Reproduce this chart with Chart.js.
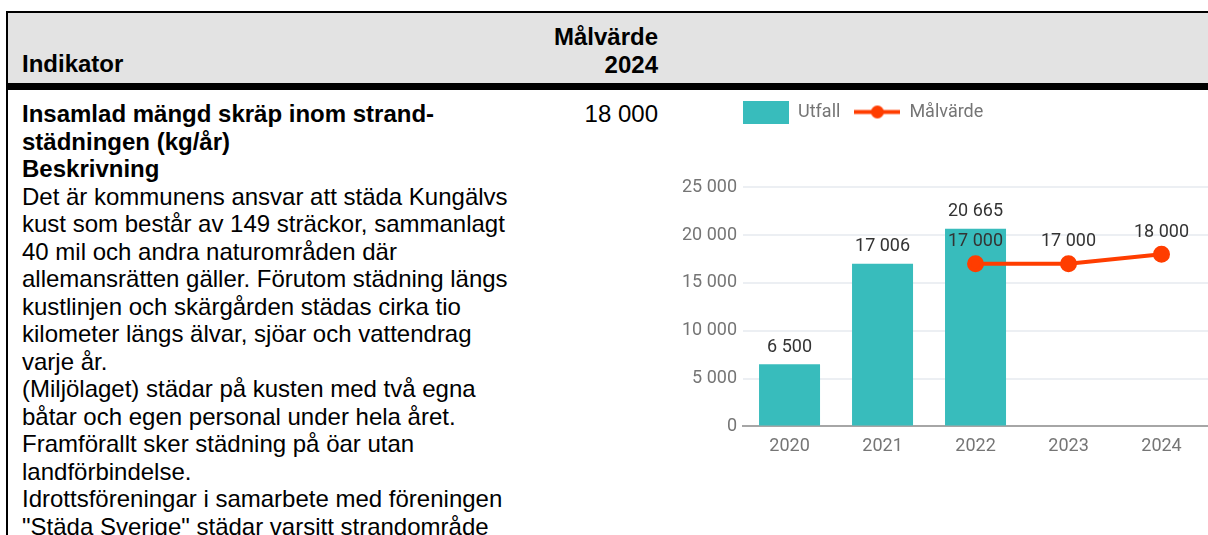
<!DOCTYPE html>
<html>
<head>
<meta charset="utf-8">
<script src="https://cdn.jsdelivr.net/npm/chart.js@4.4.0/dist/chart.umd.min.js"></script>
<style>
  body { margin: 0; background: #fff; width: 1208px; height: 535px; overflow: hidden; position: relative;
         font-family: "Liberation Sans", Arial, sans-serif; color: #000; }
  .abs { position: absolute; }
  #topline { left: 6px; top: 11px; width: 1202px; height: 2px; background: #000; }
  #leftline { left: 6px; top: 11px; width: 2px; height: 524px; background: #000; }
  #head { left: 8px; top: 13px; width: 1200px; height: 70px; background: #e3e3e3; }
  #rule { left: 6px; top: 83px; width: 1202px; height: 7px; background: #000; }
  .txt { font-size: 24px; line-height: 27.5px; white-space: nowrap; }
  #chartbox { left: 676px; top: 89px; width: 532px; height: 377px; }
</style>
</head>
<body>
<div class="abs" id="head"></div>
<div class="abs" id="topline"></div>
<div class="abs" id="leftline"></div>
<div class="abs" id="rule"></div>

<div class="abs txt" style="left:22px; top:50px; font-weight:bold;">Indikator</div>
<div class="abs txt" style="left:458px; width:200px; top:23px; font-weight:bold; text-align:right;">Målvärde<br>2024</div>

<div class="abs txt" style="left:22px; top:100px;"><b>Insamlad mängd skräp inom strand-<br>städningen (kg/år)<br>Beskrivning</b><br>Det är kommunens ansvar att städa Kungälvs<br>kust som består av 149 sträckor, sammanlagt<br>40 mil och andra naturområden där<br>allemansrätten gäller. Förutom städning längs<br>kustlinjen och skärgården städas cirka tio<br>kilometer längs älvar, sjöar och vattendrag<br>varje år.<br>(Miljölaget) städar på kusten med två egna<br>båtar och egen personal under hela året.<br>Framförallt sker städning på öar utan<br>landförbindelse.<br>Idrottsföreningar i samarbete med föreningen<br>"Städa Sverige" städar varsitt strandområde</div>

<div class="abs txt" style="left:458px; width:200px; top:100px; text-align:right;">18 000</div>

<div class="abs" id="chartbox"><canvas id="myChart"></canvas></div>

<script>
var years = ['2020', '2021', '2022', '2023', '2024'];
var utfall = [6500, 17006, 20665, null, null];
var malvarde = [null, null, 17000, 17000, 18000];
var yTicks = [0, 5000, 10000, 15000, 20000, 25000];

var barColor = '#38bcbc';
var lineColor = '#ff3d00';

function fmt(n) {
  return String(n).replace(/\B(?=(\d{3})+(?!\d))/g, ' ');
}

// legend icons
var barIcon = document.createElement('canvas');
barIcon.width = 46; barIcon.height = 23;
var bc = barIcon.getContext('2d');
bc.fillStyle = barColor;
bc.fillRect(0, 0, 46, 23);

var lineIcon = document.createElement('canvas');
lineIcon.width = 46; lineIcon.height = 23;
var lc = lineIcon.getContext('2d');
lc.strokeStyle = lineColor;
lc.lineWidth = 4;
lc.beginPath(); lc.moveTo(0, 11.5); lc.lineTo(46, 11.5); lc.stroke();
lc.fillStyle = lineColor;
lc.beginPath(); lc.arc(23, 11.5, 6.5, 0, Math.PI * 2); lc.fill();
var icons = [barIcon, lineIcon];

var valueLabels = {
  id: 'valueLabels',
  afterDatasetsDraw: function(chart) {
    var ctx = chart.ctx;
    ctx.save();
    ctx.font = '18px Roboto';
    ctx.fillStyle = '#333333';
    ctx.textAlign = 'center';
    ctx.textBaseline = 'middle';
    chart.data.datasets.forEach(function(ds, i) {
      chart.getDatasetMeta(i).data.forEach(function(el, j) {
        var v = ds.data[j];
        if (v == null) return;
        var off = ds.type === 'line' ? 22 : 17;
        ctx.fillText(fmt(v), el.x, el.y - off);
      });
    });
    ctx.restore();
  }
};

// legend starts flush with the plot area
var legendShift = {
  id: 'legendShift',
  afterLayout: function(chart) {
    var l = chart.legend;
    var d = l.left - (chart.chartArea.left - l.options.labels.padding);
    l.left -= d;
    l.right -= d;
  }
};

Chart.defaults.font.family = 'Roboto';
Chart.defaults.font.size = 18;
Chart.defaults.color = '#757575';

var ctx = document.getElementById('myChart').getContext('2d');
var myChart = new Chart(ctx, {
  type: 'bar',
  data: {
    labels: years,
    datasets: [{
      type: 'bar',
      label: 'Utfall',
      data: utfall,
      backgroundColor: barColor,
      categoryPercentage: 0.82,
      barPercentage: 0.8,
      order: 1
    }, {
      type: 'line',
      label: 'Målvärde',
      data: malvarde,
      borderColor: lineColor,
      backgroundColor: lineColor,
      borderWidth: 4,
      pointRadius: 6.5,
      pointHoverRadius: 6.5,
      spanGaps: false,
      order: 0
    }]
  },
  options: {
    responsive: true,
    maintainAspectRatio: false,
    animation: false,
    layout: { padding: 0, autoPadding: false },
    plugins: {
      legend: {
        position: 'top',
        align: 'start',
        fullSize: false,
        labels: {
          usePointStyle: true,
          pointStyleWidth: 46,
          padding: 14,
          color: '#757575',
          font: { size: 18 },
          generateLabels: function(chart) {
            var items = Chart.defaults.plugins.legend.labels.generateLabels(chart);
            items.sort(function(a, b) { return a.datasetIndex - b.datasetIndex; });
            items.forEach(function(it) { it.pointStyle = icons[it.datasetIndex]; });
            return items;
          }
        }
      },
      subtitle: {
        display: true,
        text: '',
        weight: 500,
        font: { size: 1 },
        padding: { top: 55, bottom: 0 }
      },
      tooltip: { enabled: false }
    },
    scales: {
      x: {
        grid: { display: false, drawTicks: false },
        border: { color: '#a6a6a6', width: 2 },
        ticks: { padding: 9, color: '#757575' }
      },
      y: {
        min: 0,
        max: 25000,
        afterBuildTicks: function(axis) {
          axis.ticks = yTicks.map(function(v) { return { value: v }; });
        },
        grid: { color: '#eceff3', lineWidth: 2, drawTicks: false },
        border: { display: false },
        ticks: {
          padding: 6,
          color: '#757575',
          callback: function(v) { return fmt(v); }
        }
      }
    }
  },
  plugins: [valueLabels, legendShift]
});
</script>
</body>
</html>
